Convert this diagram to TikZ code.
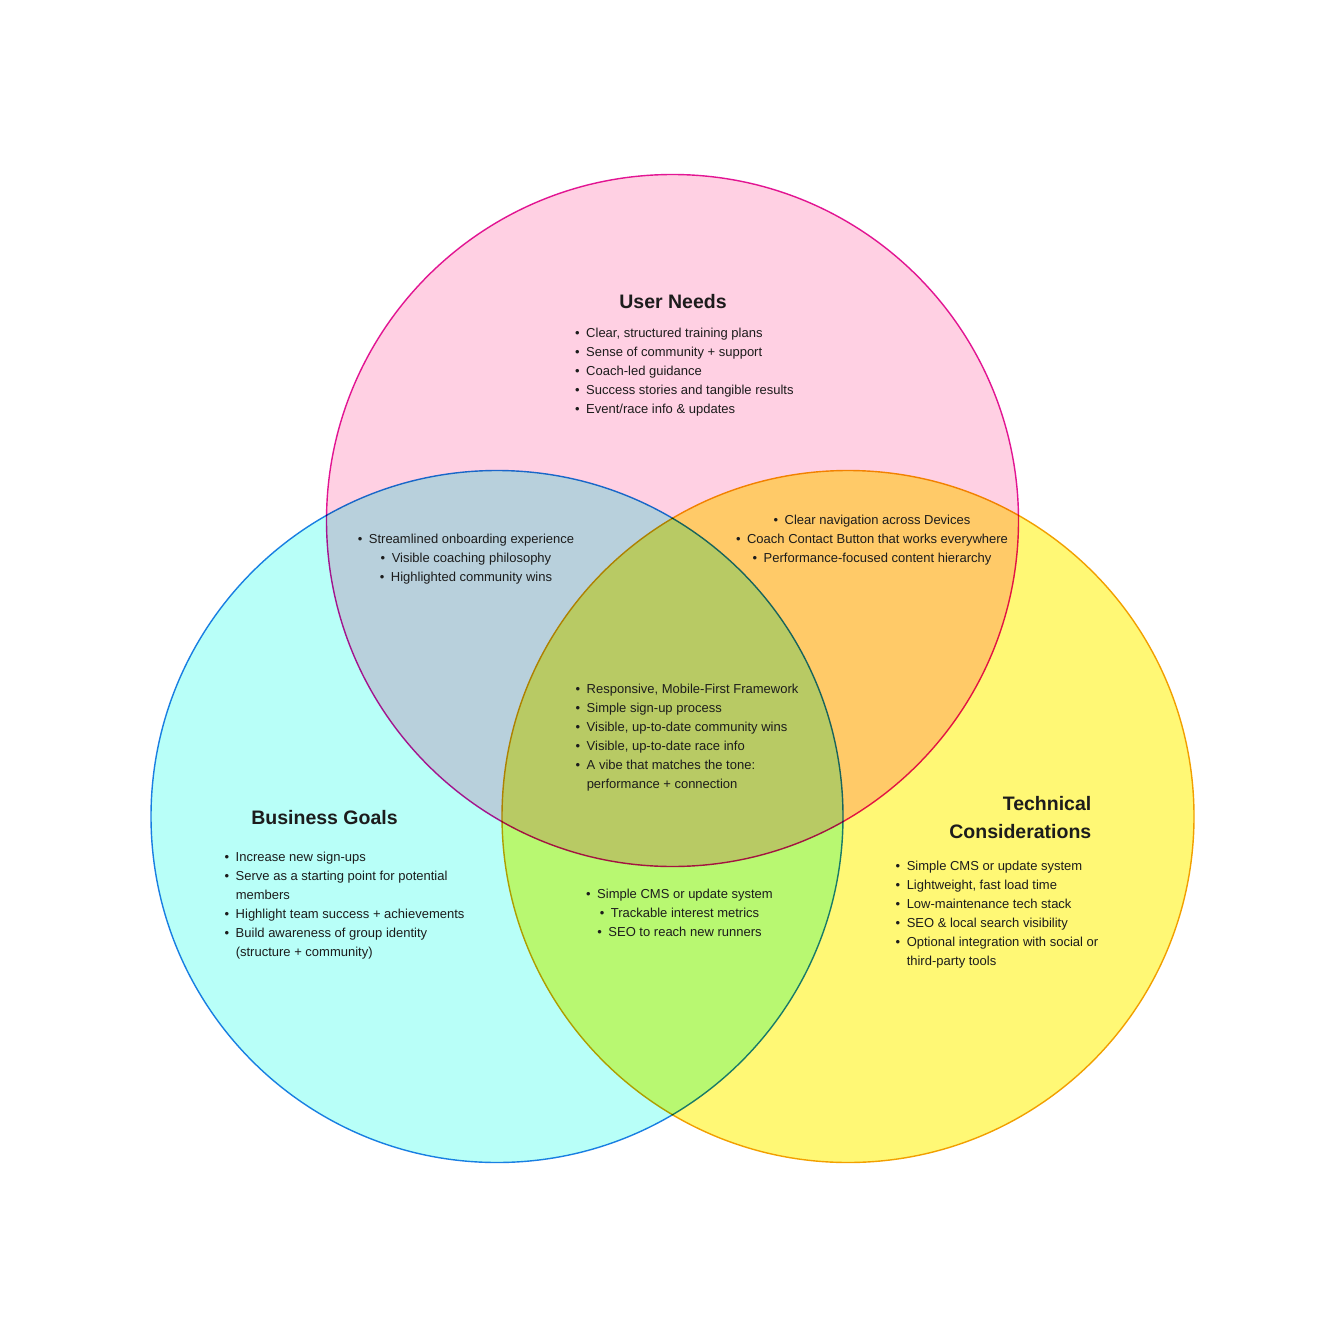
\documentclass[tikz,border=0pt]{standalone}
\usepackage{fontspec}
\setmainfont{Liberation Sans}
\usetikzlibrary{positioning}
\definecolor{pinkfill}{HTML}{FFD0E3}
\definecolor{pinkline}{HTML}{E2189C}
\definecolor{cyanfill}{HTML}{B8FFF8}
\definecolor{cyanline}{HTML}{1E7FE6}
\definecolor{yellowfill}{HTML}{FFF875}
\definecolor{yellowline}{HTML}{F2A200}
\definecolor{ink}{HTML}{1C1C1C}
\tikzset{
ring/.style={circle,minimum size=692pt,inner sep=0pt,line width=1.4pt},
heading/.style={font=\fontsize{19.5}{28}\selectfont\bfseries,text=ink,inner sep=0pt},
items/.style={font=\fontsize{13}{19}\selectfont,text=ink,inner sep=0pt}
}
\newcommand{\itm}{\textbullet\enspace}
\newcommand{\cont}{\hphantom{\textbullet\enspace}}

\begin{document}
\begin{tikzpicture}[x=1pt,y=-1pt]
\useasboundingbox[fill=white] (0,0) rectangle (1340,1335);
% the three sets, multiplied where they overlap
\begin{scope}[blend group=multiply]
\node[ring,fill=pinkfill,draw=pinkline] (user) at (672.5,520.5) {};
\node[ring,fill=cyanfill,draw=cyanline] (biz) at (497,816.5) {};
\node[ring,fill=yellowfill,draw=yellowline] (tech) at (848,816.5) {};
\end{scope}
% headings
\node[heading,anchor=north] (userhead) at (673,294) {User Needs};
\node[heading,anchor=north] (bizhead) at (324.5,810) {Business Goals};
\node[heading,anchor=north east,align=right] (techhead) at (1091.5,796) {Technical\\Considerations};
% single sets
\node[items,anchor=north west,align=left] (userlist) at (575,328) {\itm Clear, structured training plans\\
\itm Sense of community + support\\
\itm Coach-led guidance\\
\itm Success stories and tangible results\\
\itm Event/race info \& updates};
\node[items,anchor=north west,align=left] (bizlist) at (224.5,852) {\itm Increase new sign-ups\\
\itm Serve as a starting point for potential\\
\cont members\\
\itm Highlight team success + achievements\\
\itm Build awareness of group identity\\
\cont (structure + community)};
\node[items,anchor=north west,align=left] (techlist) at (895.5,861) {\itm Simple CMS or update system\\
\itm Lightweight, fast load time\\
\itm Low-maintenance tech stack\\
\itm SEO \& local search visibility\\
\itm Optional integration with social or\\
\cont third-party tools};
% overlaps
\node[items,anchor=north,align=center] (userbiz) at (466,534) {\itm Streamlined onboarding experience\\
\itm Visible coaching philosophy\\
\itm Highlighted community wins};
\node[items,anchor=north,align=center] (usertech) at (872,515) {\itm Clear navigation across Devices\\
\itm Coach Contact Button that works everywhere\\
\itm Performance-focused content hierarchy};
\node[items,anchor=north,align=center] (biztech) at (679.5,889) {\itm Simple CMS or update system\\
\itm Trackable interest metrics\\
\itm SEO to reach new runners};
\node[items,anchor=north west,align=left] (all) at (575.5,684) {\itm Responsive, Mobile-First Framework\\
\itm Simple sign-up process\\
\itm Visible, up-to-date community wins\\
\itm Visible, up-to-date race info\\
\itm A vibe that matches the tone:\\
\cont performance + connection};
\end{tikzpicture}
\end{document}
